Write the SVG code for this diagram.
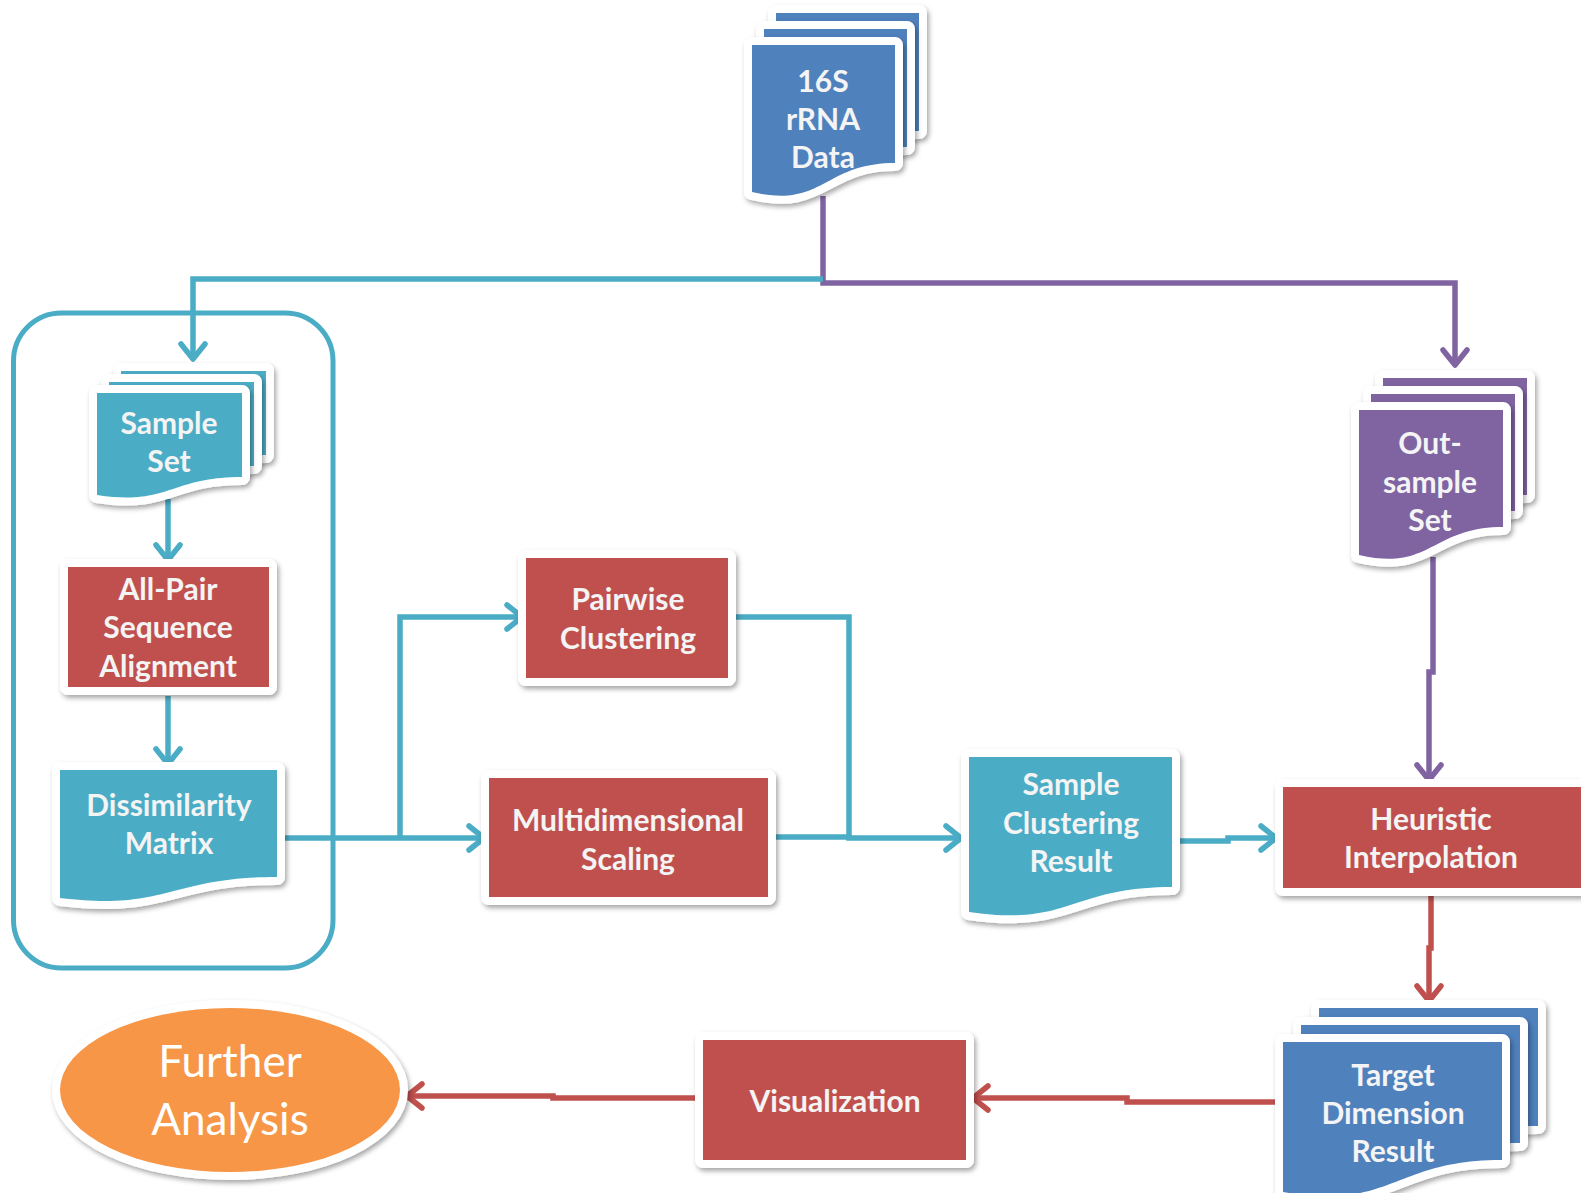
<svg xmlns="http://www.w3.org/2000/svg" xmlns:xlink="http://www.w3.org/1999/xlink" width="1581" height="1193" viewBox="0 0 1581 1193">
  <style>
    .edge { fill: #FFFFFF; stroke: #FFFFFF; stroke-width: 16; stroke-linejoin: round; filter: url(#shadow); }
    .teal { fill: #4BACC6; }
    .red { fill: #C0504D; }
    .blue { fill: #4F81BD; }
    .purple { fill: #8064A2; }
    .orange { fill: #F79646; }
    .lbl { font-family: Lato, "Liberation Sans", sans-serif; font-weight: bold; font-size: 30px; fill: #F4F4F4; text-anchor: middle; }
    .big { font-family: Lato, "Liberation Sans", sans-serif; font-weight: normal; font-size: 44px; fill: #FFFFFF; text-anchor: middle; }
    .wire { fill: none; stroke-width: 5.5; stroke-linejoin: miter; }
    .w-teal { stroke: #4BACC6; }
    .w-purple { stroke: #8064A2; }
    .w-red { stroke: #C0504D; }
  </style>
  <defs>
    <filter id="shadow" x="-15%" y="-15%" width="135%" height="135%">
      <feDropShadow dx="2" dy="3" stdDeviation="2.5" flood-color="#000000" flood-opacity="0.35"/>
    </filter>
    <marker id="ah-teal" viewBox="-20 -16 24 32" refX="0" refY="0" markerWidth="24" markerHeight="32" markerUnits="userSpaceOnUse" orient="auto">
      <path d="M-15,-12 L0,0 L-15,12" fill="none" stroke="#4BACC6" stroke-width="5.5" stroke-linecap="round" stroke-linejoin="round"/>
    </marker>
    <marker id="ah-purple" viewBox="-20 -16 24 32" refX="0" refY="0" markerWidth="24" markerHeight="32" markerUnits="userSpaceOnUse" orient="auto">
      <path d="M-15,-12 L0,0 L-15,12" fill="none" stroke="#8064A2" stroke-width="5.5" stroke-linecap="round" stroke-linejoin="round"/>
    </marker>
    <marker id="ah-red" viewBox="-20 -16 24 32" refX="0" refY="0" markerWidth="24" markerHeight="32" markerUnits="userSpaceOnUse" orient="auto">
      <path d="M-15,-12 L0,0 L-15,12" fill="none" stroke="#C0504D" stroke-width="5.5" stroke-linecap="round" stroke-linejoin="round"/>
    </marker>

    <!-- document sheets: flat top, wavy bottom -->
    <path id="d16-back" d="M776,13 H919 V131 C847.5,131 847.5,177 776,160 Z"/>
    <path id="d16-mid" d="M764,29 H907 V147 C835.5,147 835.5,193 764,176 Z"/>
    <path id="d16-front" d="M752,45 H895 V163 C823.5,163 823.5,209 752,192 Z"/>

    <path id="dss-back" d="M121,371 H266 V455 C193.5,455 193.5,484 121,473 Z"/>
    <path id="dss-mid" d="M109,382 H254 V466 C181.5,466 181.5,495 109,484 Z"/>
    <path id="dss-front" d="M97,393 H242 V477 C169.5,477 169.5,506 97,495 Z"/>

    <path id="ddm" d="M60,770 H277 V877 C168.5,877 168.5,911 60,898 Z"/>
    <path id="dscr" d="M969,757 H1172 V887 C1070.5,887 1070.5,927 969,912 Z"/>

    <path id="dout-back" d="M1383,378 H1527 V495 C1455,495 1455,540 1383,523 Z"/>
    <path id="dout-mid" d="M1371,394 H1515 V511 C1443,511 1443,556 1371,539 Z"/>
    <path id="dout-front" d="M1359,410 H1503 V527 C1431,527 1431,572 1359,555 Z"/>

    <path id="dtgt-back" d="M1319,1008 H1538 V1126 C1428.5,1126 1428.5,1177 1319,1158 Z"/>
    <path id="dtgt-mid" d="M1301,1025 H1520 V1143 C1410.5,1143 1410.5,1194 1301,1175 Z"/>
    <path id="dtgt-front" d="M1283,1042 H1502 V1160 C1392.5,1160 1392.5,1211 1283,1192 Z"/>
  </defs>

  <rect width="1581" height="1193" fill="#FFFFFF"/>

  <!-- container around the pairwise alignment stage -->
  <rect id="stage-box" x="13.5" y="313" width="319.5" height="655" rx="48" ry="48" fill="none" stroke="#4BACC6" stroke-width="5"/>

  <!-- connectors -->
  <g id="connectors">
    <path class="wire w-purple" d="M823,196 V283 H1455 V365" marker-end="url(#ah-purple)"/>
    <path class="wire w-teal" d="M823,279 H193 V359" marker-end="url(#ah-teal)"/>
    <path class="wire w-teal" d="M168,499 V560" marker-end="url(#ah-teal)"/>
    <path class="wire w-teal" d="M168,696 V764" marker-end="url(#ah-teal)"/>
    <path class="wire w-teal" d="M285,838 H484" marker-end="url(#ah-teal)"/>
    <path class="wire w-teal" d="M400,838 V617 H522" marker-end="url(#ah-teal)"/>
    <path class="wire w-teal" d="M736,617 H849 V838 H961" marker-end="url(#ah-teal)"/>
    <path class="wire w-teal" d="M776,837 H849"/>
    <path class="wire w-teal" d="M1180,841 H1228 V838 H1276" marker-end="url(#ah-teal)"/>
    <path class="wire w-purple" d="M1433,557 V672 H1429 V780" marker-end="url(#ah-purple)"/>
    <path class="wire w-red" d="M1431,896 V948 H1429 V1001" marker-end="url(#ah-red)"/>
    <path class="wire w-red" d="M1275,1102 H1127 V1098 H973" marker-end="url(#ah-red)"/>
    <path class="wire w-red" d="M695,1098 H553 V1096 H407" marker-end="url(#ah-red)"/>
  </g>

  <!-- 16S rRNA data -->
  <g id="rrna-data">
    <use xlink:href="#d16-back" class="edge"/><use xlink:href="#d16-back" class="blue"/>
    <use xlink:href="#d16-mid" class="edge"/><use xlink:href="#d16-mid" class="blue"/>
    <use xlink:href="#d16-front" class="edge"/><use xlink:href="#d16-front" class="blue"/>
    <text class="lbl" x="823" y="92">16S</text>
    <text class="lbl" x="823" y="130">rRNA</text>
    <text class="lbl" x="823" y="168">Data</text>
  </g>

  <!-- sample set -->
  <g id="sample-set">
    <use xlink:href="#dss-back" class="edge"/><use xlink:href="#dss-back" class="teal"/>
    <use xlink:href="#dss-mid" class="edge"/><use xlink:href="#dss-mid" class="teal"/>
    <use xlink:href="#dss-front" class="edge"/><use xlink:href="#dss-front" class="teal"/>
    <text class="lbl" x="169" y="434">Sample</text>
    <text class="lbl" x="169" y="472">Set</text>
  </g>

  <!-- all-pair sequence alignment -->
  <g id="all-pair">
    <rect class="edge" x="68" y="567" width="201" height="120"/>
    <rect class="red" x="68" y="567" width="201" height="120"/>
    <text class="lbl" x="168" y="600">All-Pair</text>
    <text class="lbl" x="168" y="638">Sequence</text>
    <text class="lbl" x="168" y="677">Alignment</text>
  </g>

  <!-- dissimilarity matrix -->
  <g id="dissimilarity">
    <use xlink:href="#ddm" class="edge"/><use xlink:href="#ddm" class="teal"/>
    <text class="lbl" x="169" y="816">Dissimilarity</text>
    <text class="lbl" x="169" y="854">Matrix</text>
  </g>

  <!-- pairwise clustering -->
  <g id="pairwise">
    <rect class="edge" x="526" y="558" width="202" height="120"/>
    <rect class="red" x="526" y="558" width="202" height="120"/>
    <text class="lbl" x="628" y="610">Pairwise</text>
    <text class="lbl" x="628" y="649">Clustering</text>
  </g>

  <!-- multidimensional scaling -->
  <g id="mds">
    <rect class="edge" x="489" y="778" width="279" height="119"/>
    <rect class="red" x="489" y="778" width="279" height="119"/>
    <text class="lbl" x="628" y="831">Multidimensional</text>
    <text class="lbl" x="628" y="870">Scaling</text>
  </g>

  <!-- sample clustering result -->
  <g id="cluster-result">
    <use xlink:href="#dscr" class="edge"/><use xlink:href="#dscr" class="teal"/>
    <text class="lbl" x="1071" y="795">Sample</text>
    <text class="lbl" x="1071" y="834">Clustering</text>
    <text class="lbl" x="1071" y="872">Result</text>
  </g>

  <!-- out-sample set -->
  <g id="out-sample">
    <use xlink:href="#dout-back" class="edge"/><use xlink:href="#dout-back" class="purple"/>
    <use xlink:href="#dout-mid" class="edge"/><use xlink:href="#dout-mid" class="purple"/>
    <use xlink:href="#dout-front" class="edge"/><use xlink:href="#dout-front" class="purple"/>
    <text class="lbl" x="1430" y="454">Out-</text>
    <text class="lbl" x="1430" y="493">sample</text>
    <text class="lbl" x="1430" y="531">Set</text>
  </g>

  <!-- heuristic interpolation -->
  <g id="heuristic">
    <rect class="edge" x="1283" y="787" width="310" height="101"/>
    <rect class="red" x="1283" y="787" width="310" height="101"/>
    <text class="lbl" x="1431" y="830">Heuristic</text>
    <text class="lbl" x="1431" y="868">Interpolation</text>
  </g>

  <!-- target dimension result -->
  <g id="target-result">
    <use xlink:href="#dtgt-back" class="edge"/><use xlink:href="#dtgt-back" class="blue"/>
    <use xlink:href="#dtgt-mid" class="edge"/><use xlink:href="#dtgt-mid" class="blue"/>
    <use xlink:href="#dtgt-front" class="edge"/><use xlink:href="#dtgt-front" class="blue"/>
    <text class="lbl" x="1393" y="1086">Target</text>
    <text class="lbl" x="1393" y="1124">Dimension</text>
    <text class="lbl" x="1393" y="1162">Result</text>
  </g>

  <!-- visualization -->
  <g id="visualization">
    <rect class="edge" x="703" y="1040" width="263" height="120"/>
    <rect class="red" x="703" y="1040" width="263" height="120"/>
    <text class="lbl" x="835" y="1112">Visualization</text>
  </g>

  <!-- further analysis -->
  <g id="further-analysis">
    <ellipse class="edge" cx="230" cy="1090" rx="170" ry="82"/>
    <ellipse class="orange" cx="230" cy="1090" rx="170" ry="82"/>
    <text class="big" x="230" y="1077">Further</text>
    <text class="big" x="230" y="1135">Analysis</text>
  </g>
</svg>
